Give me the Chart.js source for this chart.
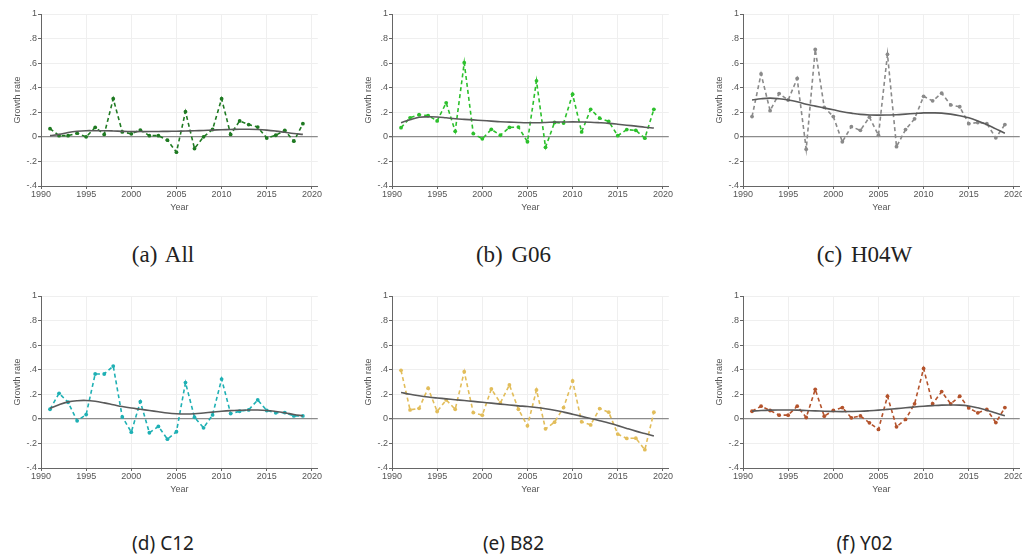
<!DOCTYPE html>
<html>
<head>
<meta charset="utf-8">
<script src="https://cdn.jsdelivr.net/npm/chart.js@4.4.1/dist/chart.umd.min.js"></script>
<style>
  body { margin: 0; background: #fff; }
  #page { position: relative; width: 1022px; height: 558px; overflow: hidden; }
  canvas { position: absolute; }
  .cap { position: absolute; text-align: center; width: 240px; color: #222; white-space: nowrap; }
  .top { font-family: "Liberation Serif", serif; font-size: 23px; word-spacing: 3px; }
  .bot { font-family: "Noto Sans", sans-serif; font-size: 19px; }
</style>
</head>
<body>
<div id="page"></div>
<script>
// growth rates per year
const years = [1991,1992,1993,1994,1995,1996,1997,1998,1999,2000,2001,2002,2003,2004,2005,
               2006,2007,2008,2009,2010,2011,2012,2013,2014,2015,2016,2017,2018,2019];
const xTicks = [1990, 1995, 2000, 2005, 2010, 2015, 2020];
const yTicks = [-0.4, -0.2, 0, 0.2, 0.4, 0.6, 0.8, 1];

const allRate  = [0.067,0.01,0.01,0.03,0.0,0.077,0.02,0.31,0.04,0.025,0.055,0.01,0.01,-0.027,-0.125,
                  0.205,-0.095,0.0,0.06,0.31,0.02,0.13,0.10,0.08,-0.01,0.013,0.053,-0.035,0.107];
const allFit   = [0.01,0.02,0.035,0.045,0.05,0.05,0.05,0.048,0.045,0.043,0.043,0.043,0.044,0.045,0.046,
                  0.048,0.05,0.052,0.055,0.058,0.06,0.062,0.062,0.06,0.055,0.047,0.037,0.027,0.02];

const g06Rate  = [0.075,0.155,0.18,0.173,0.13,0.277,0.045,0.603,0.027,-0.016,0.061,0.013,0.077,0.08,-0.04,
                  0.456,-0.085,0.117,0.112,0.347,0.04,0.224,0.152,0.125,0.01,0.059,0.053,-0.011,0.224];
const g06Fit   = [0.115,0.14,0.16,0.163,0.162,0.155,0.147,0.142,0.138,0.133,0.128,0.123,0.12,0.117,0.115,
                  0.115,0.117,0.12,0.121,0.122,0.121,0.119,0.115,0.11,0.103,0.095,0.087,0.078,0.072];

const h04wRate = [0.165,0.512,0.213,0.352,0.3,0.475,-0.1,0.712,0.24,0.165,-0.04,0.083,0.053,0.16,0.013,
                  0.672,-0.08,0.059,0.147,0.33,0.293,0.355,0.26,0.245,0.107,0.117,0.107,-0.008,0.1];
const h04wFit  = [0.30,0.31,0.315,0.31,0.30,0.285,0.265,0.25,0.235,0.22,0.205,0.193,0.183,0.178,0.177,
                  0.178,0.18,0.185,0.19,0.195,0.195,0.193,0.185,0.172,0.155,0.13,0.10,0.065,0.03];

const c12Rate  = [0.078,0.208,0.135,-0.016,0.035,0.365,0.365,0.43,0.016,-0.108,0.14,-0.113,-0.062,-0.165,-0.105,
                  0.295,0.013,-0.073,0.032,0.324,0.043,0.062,0.073,0.154,0.068,0.049,0.051,0.024,0.024];
const c12Fit   = [0.085,0.115,0.138,0.148,0.15,0.143,0.13,0.115,0.10,0.088,0.078,0.068,0.058,0.048,0.042,
                  0.04,0.042,0.048,0.055,0.062,0.067,0.07,0.072,0.072,0.068,0.06,0.05,0.035,0.025];

const b82Rate  = [0.395,0.073,0.086,0.25,0.06,0.154,0.078,0.384,0.051,0.03,0.243,0.13,0.276,0.078,-0.057,
                  0.235,-0.081,-0.027,0.092,0.308,-0.024,-0.049,0.084,0.054,-0.124,-0.159,-0.157,-0.251,0.054];
const b82Fit   = [0.215,0.20,0.188,0.178,0.17,0.163,0.156,0.149,0.142,0.135,0.128,0.12,0.113,0.106,0.10,
                  0.092,0.082,0.07,0.055,0.038,0.02,0.003,-0.015,-0.033,-0.055,-0.078,-0.10,-0.12,-0.14];

const y02Rate  = [0.062,0.103,0.068,0.03,0.03,0.103,0.011,0.24,0.022,0.068,0.092,0.008,0.024,-0.032,-0.086,
                  0.184,-0.065,-0.005,0.122,0.41,0.122,0.222,0.122,0.184,0.089,0.049,0.076,-0.03,0.092];
const y02Fit   = [0.063,0.068,0.071,0.072,0.072,0.071,0.068,0.065,0.062,0.06,0.059,0.06,0.062,0.066,0.071,
                  0.077,0.083,0.09,0.097,0.103,0.108,0.112,0.113,0.112,0.105,0.09,0.07,0.047,0.025];

const panels = [
  { rate: allRate,  fit: allFit,  color: '#1f7a22', cap: '(a) All',  capCls: 'top', left: 41,    top: 13.5 },
  { rate: g06Rate,  fit: g06Fit,  color: '#2cc02c', cap: '(b) G06',  capCls: 'top', left: 391.5, top: 13.5 },
  { rate: h04wRate, fit: h04wFit, color: '#8a8a8a', cap: '(c) H04W', capCls: 'top', left: 742.5, top: 13.5 },
  { rate: c12Rate,  fit: c12Fit,  color: '#1eb0b4', cap: '(d) C12',  capCls: 'bot', left: 41,    top: 295.5 },
  { rate: b82Rate,  fit: b82Fit,  color: '#e2bd5a', cap: '(e) B82',  capCls: 'bot', left: 391.5, top: 295.5 },
  { rate: y02Rate,  fit: y02Fit,  color: '#b4532c', cap: '(f) Y02',  capCls: 'bot', left: 742.5, top: 295.5 }
];

const plotW = 277, plotH = 172;
const padL = 44, padT = 8, padR = 4, padB = 27;
const page = document.getElementById('page');

function fmtY(v) {
  if (v === 0) return '0';
  const s = String(Math.abs(v)).replace(/^0/, '');
  return (v < 0 ? '-' : '') + s;
}

panels.forEach((p, i) => {
  const cv = document.createElement('canvas');
  cv.width = plotW + padL + padR;
  cv.height = plotH + padT + padB;
  cv.style.left = (p.left - padL) + 'px';
  cv.style.top = (p.top - padT) + 'px';
  page.appendChild(cv);

  const cap = document.createElement('div');
  cap.className = 'cap ' + p.capCls;
  cap.textContent = p.cap;
  cap.style.left = (p.left + 122 - 120) + 'px';
  cap.style.top = (i < 3 ? 242 : 530) + 'px';
  page.appendChild(cap);

  new Chart(cv, {
    type: 'line',
    data: {
      datasets: [
        {
          data: years.map((y, k) => ({ x: y, y: p.fit[k] })),
          borderColor: '#5a5a5a',
          borderWidth: 1.6,
          pointRadius: 0,
          tension: 0.4,
          fill: false
        },
        {
          data: years.map((y, k) => ({ x: y, y: p.rate[k] })),
          borderColor: p.color,
          backgroundColor: p.color,
          borderWidth: 1.6,
          borderDash: [4, 3],
          pointRadius: 1.9,
          pointStyle: 'circle',
          pointBorderWidth: 0,
          tension: 0,
          fill: false
        }
      ]
    },
    options: {
      responsive: false,
      animation: false,
      layout: { padding: { left: 0, top: padT, right: padR, bottom: 0 } },
      plugins: { legend: { display: false }, tooltip: { enabled: false } },
      scales: {
        x: {
          type: 'linear',
          min: 1990,
          max: 2020.65,
          afterBuildTicks: s => { s.ticks = xTicks.map(v => ({ value: v })); },
          afterFit: s => { s.height = padB; },
          ticks: { color: '#555', font: { family: 'Liberation Sans', size: 9 }, padding: 0, maxRotation: 0, callback: v => String(v) },
          grid: { color: '#efefef', tickColor: '#666', tickLength: 3 },
          border: { color: '#666', width: 1 },
          title: { display: true, text: 'Year', color: '#555', font: { family: 'Liberation Sans', size: 9 }, padding: { top: 1, bottom: 0 } }
        },
        y: {
          min: -0.4,
          max: 1,
          afterBuildTicks: s => { s.ticks = yTicks.map(v => ({ value: v })); },
          afterFit: s => { s.width = padL; },
          ticks: { color: '#555', font: { family: 'Liberation Sans', size: 9 }, padding: 1, callback: v => fmtY(v) },
          grid: {
            color: c => (c.tick && c.tick.value === 0) ? '#8c8c8c' : '#efefef',
            lineWidth: c => (c.tick && c.tick.value === 0) ? 1.3 : 1,
            tickColor: '#666',
            tickLength: 3
          },
          border: { color: '#666', width: 1 },
          title: { display: true, text: 'Growth rate', color: '#555', font: { family: 'Liberation Sans', size: 9 }, padding: { top: 15, bottom: 0 } }
        }
      }
    }
  });
});
</script>
</body>
</html>
